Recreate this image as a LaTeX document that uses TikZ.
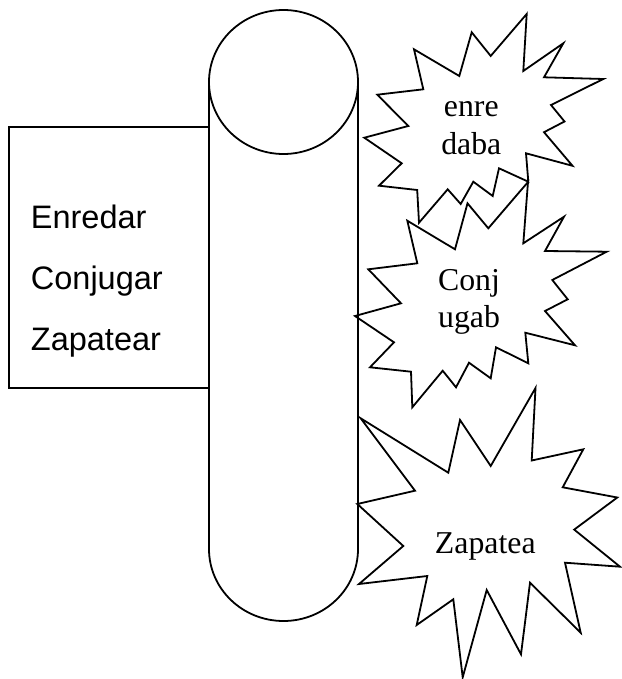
\documentclass[tikz,border=0pt]{standalone}
\usepackage{fontspec}
\setmainfont{Liberation Serif}
\newfontfamily\arialfont{Liberation Sans}
\usetikzlibrary{positioning}

\begin{document}
\begin{tikzpicture}[
                x=1pt, y=-1pt,
                line width=1.8pt,
                every node/.style={inner sep=0pt},
                listitem/.style={anchor=base west, font=\arialfont\fontsize{32.5}{38}\selectfont},
                burst/.style={draw, line join=miter, miter limit=20},
                burstword/.style={anchor=base, font=\fontsize{31.8}{38}\selectfont}
            ]
            \useasboundingbox (0,0) rectangle (621,679);

            % Le cylindre
            \draw (283.5,82) ellipse [x radius=74.5, y radius=72];
            \draw (209,82) -- (209,549) arc [start angle=180, end angle=0, x radius=74.5, y radius=72] -- (358,82);

            % La liste des verbes
            \draw (9,127) rectangle (209,388);
            \node[listitem] (enredar) at (30,228) {Enredar};
            \node[listitem] (conjugar) at (30,289) {Conjugar};
            \node[listitem] (zapatear) at (30,350) {Zapatear};

            % Etoile 1
            \draw[burst] (526.7,14) -- (523.3,71) -- (563.3,43.3) -- (544,77.3) -- (603.3,79)
                -- (551,105) -- (564.5,121.5) -- (544,132.2) -- (572.5,165.8) -- (526,153.3)
                -- (528.3,181.7) -- (499,168.3) -- (492.7,196) -- (473.3,181.7) -- (460.7,204)
                -- (447.7,189.3) -- (419,222.7) -- (417.2,190) -- (379,185.7) -- (401.7,163.3)
                -- (364.3,137.7) -- (408.3,126) -- (377.3,94.7) -- (423.3,89.3) -- (414,49.3)
                -- (459.3,76) -- (471.7,32.3) -- (490.7,56) -- cycle;
            \node[burstword] (enre) at (471.3,116.7) {enre};
            \node[burstword] (daba) at (471.3,155) {daba};

            % Etoile 2
            \draw[burst] (528,182) -- (523.3,243.3) -- (564,216.7) -- (545,251) -- (606.7,251.7)
                -- (552.3,280) -- (567.7,299.3) -- (545,311) -- (575,345.3) -- (525.3,332.7)
                -- (528.3,363.3) -- (496,347.3) -- (490.7,378.3) -- (469,362.7) -- (456,387.3)
                -- (442.7,370.7) -- (412.3,407.3) -- (411,371.7) -- (370,367.3) -- (394,342.3)
                -- (355,316) -- (401,303.3) -- (368.3,269.3) -- (417.3,263.3) -- (407.3,220.7)
                -- (455,249.3) -- (467.5,203.3) -- (488.3,228.3) -- cycle;
            \node[burstword] (conj) at (469,290) {Conj};
            \node[burstword] (ugab) at (469,327.7) {ugab};

            % Etoile 3
            \draw[burst] (535.5,388) -- (531.7,460.5) -- (583.3,449.3) -- (562.7,487.3) -- (617.3,497.5)
                -- (574.2,529.6) -- (620,566.7) -- (565,562.7) -- (580.7,632.7) -- (530,582.7)
                -- (521,654.3) -- (486.7,590) -- (462.7,677.3) -- (453.3,599.3) -- (416.7,625)
                -- (427.3,576) -- (359,584) -- (403.3,546) -- (357.3,504) -- (415,490.7)
                -- (360.7,418.3) -- (448.3,472.7) -- (460,420) -- (490.7,466) -- cycle;
            \node[burstword] (zapatea) at (485.3,553.3) {Zapatea};

        \end{tikzpicture}
\end{document}
